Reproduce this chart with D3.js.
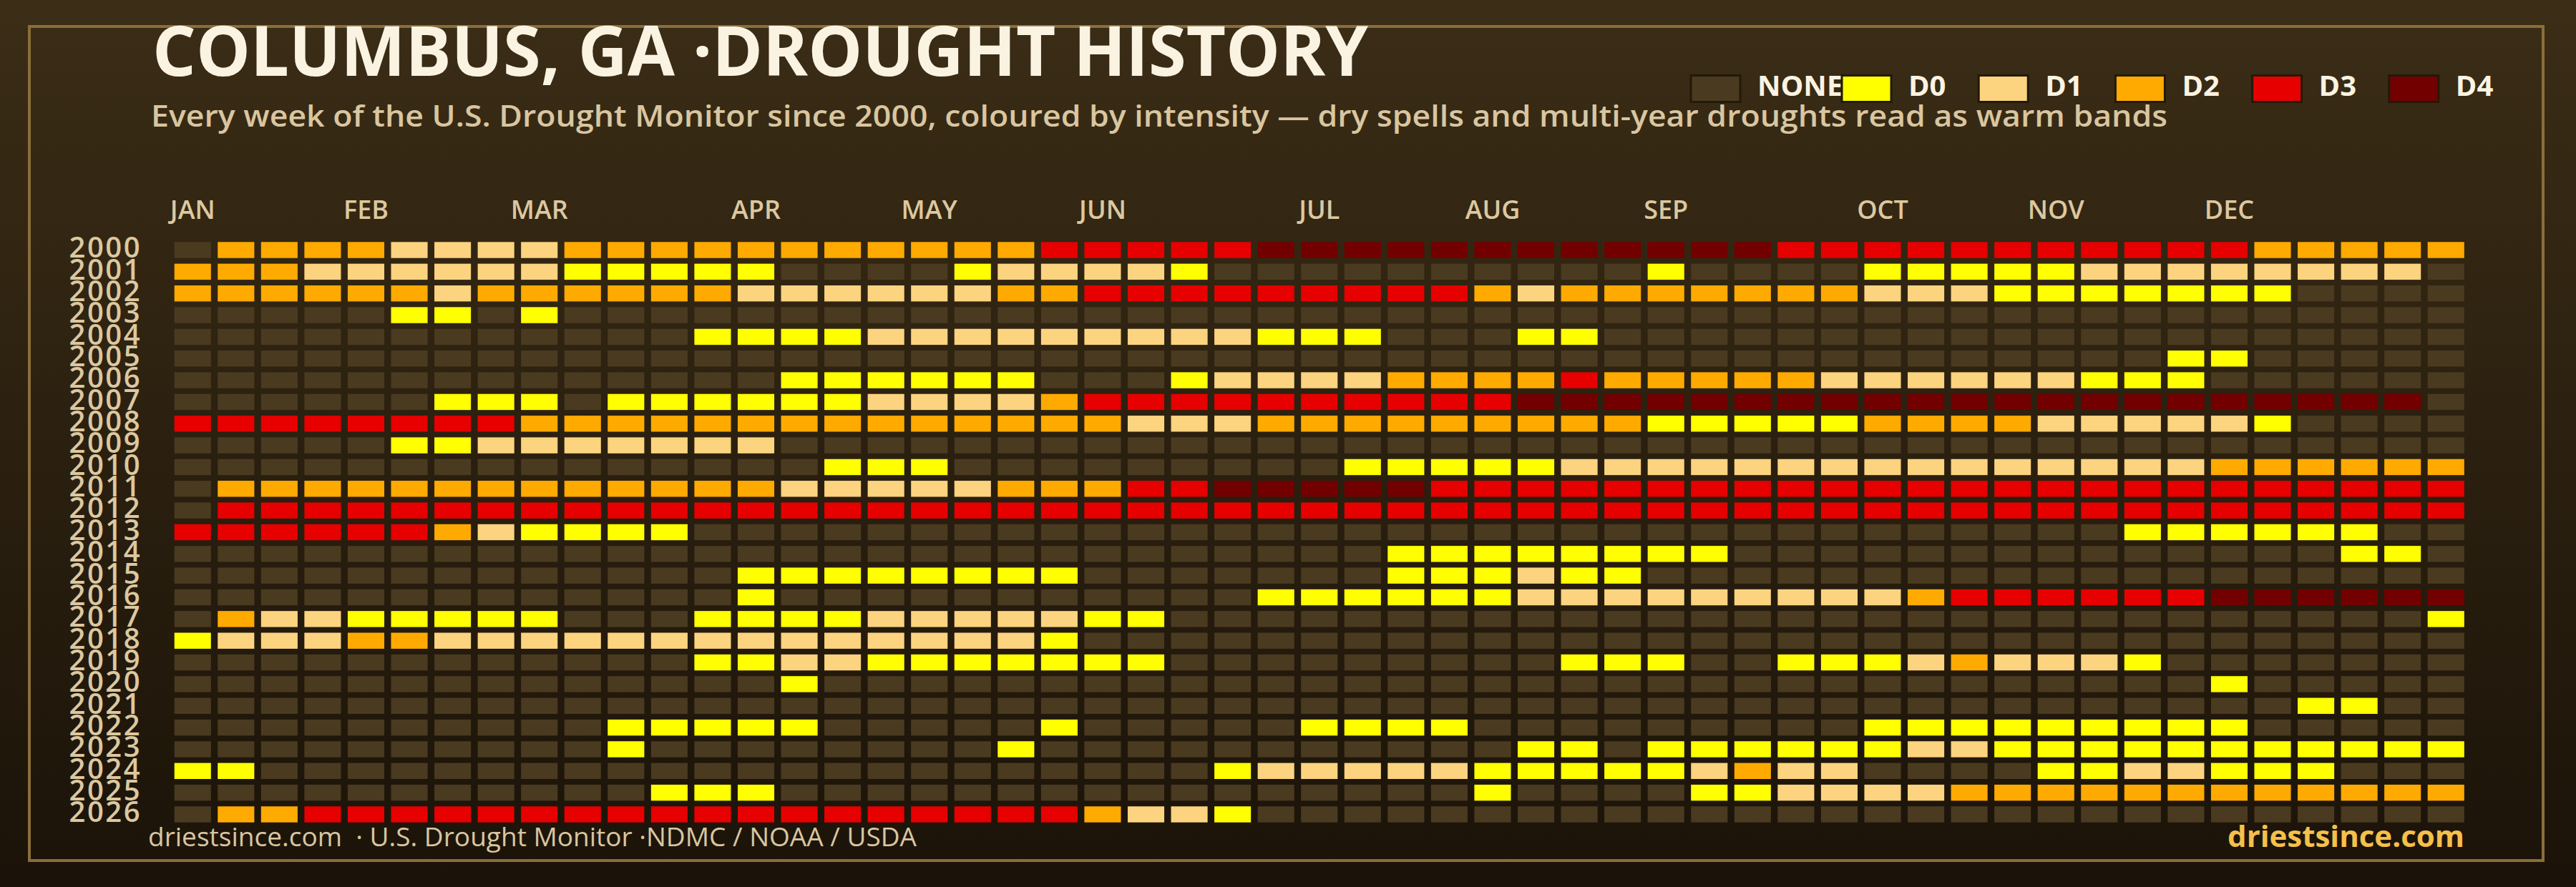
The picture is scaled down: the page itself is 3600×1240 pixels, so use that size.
<!DOCTYPE html>
<html>
<head>
<meta charset="utf-8">
<script src="https://cdn.jsdelivr.net/npm/d3@7"></script>
<style>
  html, body { margin: 0; padding: 0; background: #1c140a; }
  svg { display: block; }
</style>
</head>
<body>
<svg id="chart" width="3600" height="1240"></svg>
<script>
// ---------------- DATA ----------------
const title = "COLUMBUS, GA ·DROUGHT HISTORY";
const subtitle = "Every week of the U.S. Drought Monitor since 2000, coloured by intensity — dry spells and multi-year droughts read as warm bands";
const sourceNote = "driestsince.com  · U.S. Drought Monitor ·NDMC / NOAA / USDA";
const brand = "driestsince.com";

const years = [2000, 2001, 2002, 2003, 2004, 2005, 2006, 2007, 2008, 2009, 2010, 2011, 2012, 2013,
               2014, 2015, 2016, 2017, 2018, 2019, 2020, 2021, 2022, 2023, 2024, 2025, 2026];
const weeks = d3.range(53); // week-of-year index categories
const monthLabels = ["JAN", "FEB", "MAR", "APR", "MAY", "JUN", "JUL", "AUG", "SEP", "OCT", "NOV", "DEC"];
const monthWeeks  = [0, 4, 8, 13, 17, 21, 26, 30, 34, 39, 43, 47];
const levelKeys   = ["NONE", "D0", "D1", "D2", "D3", "D4"];

// One string per year, one character per week: "." = none, "0".."4" = D0..D4
const weekLevels = [
  /*2000*/ "." + "2222" + "1111" + "22222222222" + "33333" + "444444444444" + "33333333333" + "22222",
  /*2001*/ "222" + "111111" + "00000" + "...." + "0" + "1111" + "0" + ".........." + "0" + "...." + "00000" + "11111111" + ".",
  /*2002*/ "222222" + "1" + "222222" + "111111" + "22" + "333333333" + "2" + "1" + "2222222" + "111" + "0000000" + "....",
  /*2003*/ "....." + "00" + "." + "0" + ".........." + ".........." + ".........." + ".........." + "....",
  /*2004*/ ".........." + ".." + "0000" + "111111111" + "000" + "..." + "00" + ".........." + "..........",
  /*2005*/ ".........." + ".........." + ".........." + ".........." + "......" + "00" + ".....",
  /*2006*/ ".........." + "...." + "000000" + "..." + "0" + "1111" + "2222" + "3" + "22222" + "111111" + "000" + "......",
  /*2007*/ "......" + "000" + "." + "000000" + "1111" + "2" + "3333333333" + "4444444444" + "4444444444" + "4" + ".",
  /*2008*/ "33333333" + "22222222222222" + "111" + "222222222" + "00000" + "2222" + "11111" + "0" + "....",
  /*2009*/ "....." + "00" + "1111111" + ".........." + ".........." + ".........." + ".........",
  /*2010*/ ".........." + "....." + "000" + "........." + "00000" + "1111111111" + "11111" + "222222",
  /*2011*/ "." + "2222222222" + "222" + "11111" + "222" + "33" + "44444" + "3333333333" + "3333333333" + "3333",
  /*2012*/ "." + "3333333333" + "3333333333" + "3333333333" + "3333333333" + "3333333333" + "33",
  /*2013*/ "333333" + "2" + "1" + "0000" + ".........." + ".........." + ".........." + "..." + "000000" + "..",
  /*2014*/ ".........." + ".........." + "........" + "00000000" + ".........." + "...." + "00" + ".",
  /*2015*/ ".........." + "..." + "00000000" + "......." + "000" + "1" + "00" + ".........." + ".........",
  /*2016*/ ".........." + "..." + "0" + ".........." + "." + "000000" + "111111111" + "2" + "333333" + "444444",
  /*2017*/ "." + "2" + "11" + "00000" + "..." + "0000" + "11111" + "00" + ".........." + ".........." + "........." + "0",
  /*2018*/ "0" + "111" + "22" + "1111111111" + "1111" + "0" + ".........." + ".........." + ".........." + "..",
  /*2019*/ ".........." + ".." + "00" + "11" + "0000000" + "........." + "000" + ".." + "000" + "1" + "2" + "111" + "0" + ".......",
  /*2020*/ ".........." + "...." + "0" + ".........." + ".........." + ".........." + ".." + "0" + ".....",
  /*2021*/ ".........." + ".........." + ".........." + ".........." + "........." + "00" + "..",
  /*2022*/ ".........." + "00000" + "....." + "0" + "....." + "0000" + "........." + "000000000" + ".....",
  /*2023*/ ".........." + "0" + "........" + "0" + ".........." + "." + "00" + "." + "000000" + "11" + "00000000000",
  /*2024*/ "00" + ".........." + ".........." + ".." + "0" + "11111" + "00000" + "1" + "2" + "11" + "...." + "00" + "11" + "000" + "...",
  /*2025*/ ".........." + "." + "000" + ".........." + "......" + "0" + "...." + "00" + "1111" + "222222222222",
  /*2026*/ "." + "22" + "3333333333" + "33333333" + "2" + "11" + "0" + ".........." + ".........." + "........"
];

// ---------------- STYLE ----------------
const levelColors = ["#4a3a20", "#ffff00", "#fcd37f", "#ffaa00", "#e60000", "#730000"];
const FONT = "'Open Sans', 'Noto Sans', sans-serif";
const codeToKey = { ".": "NONE", "0": "D0", "1": "D1", "2": "D2", "3": "D3", "4": "D4" };

// ---------------- CHART ----------------
const W = 3600, H = 1240;
const svg = d3.select("#chart");

const defs = svg.append("defs");
const grad = defs.append("linearGradient").attr("id", "bg")
  .attr("x1", 0).attr("y1", 0).attr("x2", 0).attr("y2", 1);
grad.append("stop").attr("offset", "0%").attr("stop-color", "#3b2d16");
grad.append("stop").attr("offset", "100%").attr("stop-color", "#1b1309");

svg.append("rect").attr("width", W).attr("height", H).attr("fill", "url(#bg)");

// frame
svg.append("rect")
  .attr("x", 41).attr("y", 37).attr("width", 3513).attr("height", 1166)
  .attr("fill", "none").attr("stroke", "#8a6e3a").attr("stroke-width", 4);

// scales
const x = d3.scaleBand().domain(weeks).range([243.7, 3443.8]).paddingInner(0.156).paddingOuter(0);
const y = d3.scaleBand().domain(years).range([338.3, 1149.7]).paddingInner(0.261).paddingOuter(0);
const color = d3.scaleOrdinal().domain(levelKeys).range(levelColors);

// cells
const cells = [];
years.forEach((yr, i) => {
  weekLevels[i].split("").forEach((c, w) => {
    cells.push({ year: yr, week: w, level: codeToKey[c] });
  });
});

svg.append("g").attr("class", "cells")
  .selectAll("rect").data(cells).join("rect")
  .attr("x", d => x(d.week))
  .attr("y", d => y(d.year))
  .attr("width", x.bandwidth())
  .attr("height", y.bandwidth())
  .attr("fill", d => color(d.level));

// year axis
svg.append("g").attr("transform", "translate(198,0)")
  .call(d3.axisLeft(y).tickSize(0).tickPadding(0))
  .call(g => g.select(".domain").remove())
  .call(g => g.selectAll("text")
    .attr("font-family", FONT).attr("font-size", 40).attr("font-weight", 600)
    .attr("letter-spacing", 2.5)
    .attr("fill", "#dcc8a0").attr("dy", "0.27em"));

// month axis
svg.append("g").attr("transform", "translate(0,306)")
  .call(d3.axisTop(x).tickValues(monthWeeks).tickFormat((d, i) => monthLabels[i]).tickSize(0).tickPadding(0))
  .call(g => g.select(".domain").remove())
  .call(g => g.selectAll("text")
    .attr("font-family", FONT).attr("font-size", 36).attr("font-weight", 600)
    .attr("fill", "#dcc8a0"));

// title & subtitle
svg.append("text")
  .attr("x", 213).attr("y", 106)
  .attr("font-family", FONT).attr("font-size", 96).attr("font-weight", 700)
  .attr("fill", "#fbf3e2")
  .attr("textLength", 1699).attr("lengthAdjust", "spacingAndGlyphs")
  .text(title);

svg.append("text")
  .attr("x", 211).attr("y", 177)
  .attr("font-family", FONT).attr("font-size", 42).attr("font-weight", 600)
  .attr("fill", "#d9c6a0")
  .attr("textLength", 2818).attr("lengthAdjust", "spacingAndGlyphs")
  .text(subtitle);

// legend
const legend = svg.append("g").attr("class", "legend");
const legendX = i => (i === 0 ? 2361 : 2572 + (i - 1) * 191.2);
const items = legend.selectAll("g").data(levelKeys).join("g")
  .attr("transform", (d, i) => `translate(${legendX(i)},0)`);
items.append("rect")
  .attr("x", 2).attr("y", 105.5).attr("width", 69).attr("height", 37)
  .attr("fill", d => color(d)).attr("stroke", "#221909").attr("stroke-width", 3);
items.append("text")
  .attr("x", 95).attr("y", 134)
  .attr("font-family", FONT).attr("font-size", 40).attr("font-weight", 700)
  .attr("fill", "#fbf3e2")
  .text(d => d);

// footer
svg.append("text")
  .attr("x", 207).attr("y", 1183)
  .attr("font-family", FONT).attr("font-size", 36).attr("font-weight", 500)
  .attr("fill", "#d9c6a0").style("white-space", "pre")
  .attr("textLength", 1074).attr("lengthAdjust", "spacingAndGlyphs")
  .text(sourceNote);

svg.append("text")
  .attr("x", 3444).attr("y", 1184).attr("text-anchor", "end")
  .attr("font-family", FONT).attr("font-size", 42).attr("font-weight", 700)
  .attr("fill", "#f5c04a")
  .text(brand);
</script>
</body>
</html>
